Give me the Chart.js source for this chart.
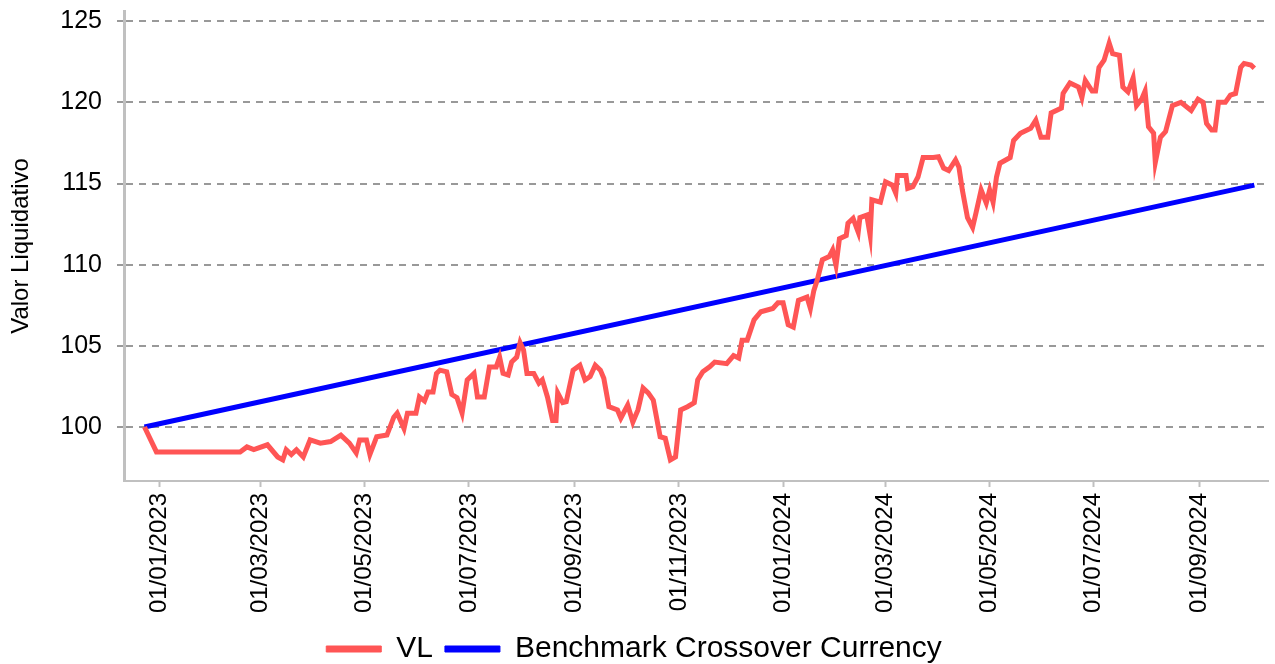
<!DOCTYPE html>
<html>
<head>
<meta charset="utf-8">
<title>Valor Liquidativo</title>
<script src="https://cdn.jsdelivr.net/npm/chart.js@4.4.1/dist/chart.umd.min.js"></script>
<style>
    html, body { margin: 0; padding: 0; background: #FFFFFF; }
    #chart-wrap { width: 1275px; height: 664px; position: relative; }
</style>
</head>
<body>
<div id="chart-wrap"><canvas id="vl-chart"></canvas></div>
<script>
// Net asset value vs benchmark chart

// Axis labels and ticks
const yTitle = 'Valor Liquidativo';
const yTicks = [100, 105, 110, 115, 120, 125];
const xTickLabels = [
    '01/01/2023', '01/03/2023', '01/05/2023', '01/07/2023', '01/09/2023', '01/11/2023',
    '01/01/2024', '01/03/2024', '01/05/2024', '01/07/2024', '01/09/2024'
];
const xRange = ['2022-12-11', '2024-10-11'];
const yRange = [96.67, 125.63];

// VL series
const vlDates = [
    '2022-12-23', '2022-12-30', '2023-02-17', '2023-02-21', '2023-02-25', '2023-03-05', '2023-03-11',
    '2023-03-14', '2023-03-16', '2023-03-19', '2023-03-22', '2023-03-26', '2023-03-30', '2023-04-05',
    '2023-04-11', '2023-04-17', '2023-04-22', '2023-04-26', '2023-04-28', '2023-05-02', '2023-05-04',
    '2023-05-08', '2023-05-14', '2023-05-18', '2023-05-20', '2023-05-24', '2023-05-26', '2023-05-31',
    '2023-06-02', '2023-06-05', '2023-06-07', '2023-06-10', '2023-06-12', '2023-06-14', '2023-06-18',
    '2023-06-21', '2023-06-24', '2023-06-27', '2023-06-30', '2023-07-04', '2023-07-06', '2023-07-10',
    '2023-07-13', '2023-07-17', '2023-07-19', '2023-07-21', '2023-07-24', '2023-07-26', '2023-07-29',
    '2023-07-31', '2023-08-02', '2023-08-04', '2023-08-08', '2023-08-11', '2023-08-13', '2023-08-16',
    '2023-08-19', '2023-08-21', '2023-08-22', '2023-08-25', '2023-08-27', '2023-08-31', '2023-09-04',
    '2023-09-07', '2023-09-10', '2023-09-13', '2023-09-16', '2023-09-18', '2023-09-21', '2023-09-26',
    '2023-09-28', '2023-10-02', '2023-10-05', '2023-10-08', '2023-10-11', '2023-10-14', '2023-10-17',
    '2023-10-21', '2023-10-24', '2023-10-27', '2023-10-30', '2023-11-02', '2023-11-06', '2023-11-10',
    '2023-11-12', '2023-11-15', '2023-11-19', '2023-11-22', '2023-11-29', '2023-12-03', '2023-12-06',
    '2023-12-08', '2023-12-11', '2023-12-15', '2023-12-19', '2023-12-26', '2023-12-29', '2024-01-01',
    '2024-01-04', '2024-01-07', '2024-01-10', '2024-01-15', '2024-01-17', '2024-01-19', '2024-01-21',
    '2024-01-24', '2024-01-28', '2024-01-30', '2024-02-01', '2024-02-03', '2024-02-07', '2024-02-08',
    '2024-02-11', '2024-02-14', '2024-02-15', '2024-02-19', '2024-02-21', '2024-02-22', '2024-02-27',
    '2024-03-01', '2024-03-05', '2024-03-07', '2024-03-08', '2024-03-13', '2024-03-14', '2024-03-17',
    '2024-03-20', '2024-03-23', '2024-03-29', '2024-04-01', '2024-04-04', '2024-04-07', '2024-04-11',
    '2024-04-13', '2024-04-15', '2024-04-18', '2024-04-21', '2024-04-23', '2024-04-26', '2024-04-29',
    '2024-05-01', '2024-05-03', '2024-05-05', '2024-05-07', '2024-05-13', '2024-05-15', '2024-05-19',
    '2024-05-25', '2024-05-28', '2024-05-31', '2024-06-04', '2024-06-06', '2024-06-12', '2024-06-13',
    '2024-06-17', '2024-06-22', '2024-06-24', '2024-06-26', '2024-06-30', '2024-07-02', '2024-07-04',
    '2024-07-07', '2024-07-10', '2024-07-12', '2024-07-16', '2024-07-18', '2024-07-21', '2024-07-24',
    '2024-07-26', '2024-07-29', '2024-07-31', '2024-08-02', '2024-08-05', '2024-08-06', '2024-08-09',
    '2024-08-12', '2024-08-16', '2024-08-21', '2024-08-27', '2024-08-31', '2024-09-03', '2024-09-05',
    '2024-09-08', '2024-09-10', '2024-09-12', '2024-09-16', '2024-09-19', '2024-09-22', '2024-09-25',
    '2024-09-27', '2024-10-01', '2024-10-03'
];
const vlValues = [
    100.0, 98.46, 98.46, 98.77, 98.6, 98.9, 98.15,
    97.97, 98.6, 98.3, 98.6, 98.15, 99.2, 99.0,
    99.1, 99.5, 99.0, 98.4, 99.2, 99.2, 98.3,
    99.4, 99.5, 100.6, 100.85, 99.9, 100.85, 100.85,
    101.85, 101.6, 102.15, 102.15, 103.3, 103.5, 103.4,
    102.0, 101.8, 100.85, 102.9, 103.3, 101.85, 101.85,
    103.7, 103.7, 104.3, 103.3, 103.2, 104.0, 104.3,
    105.2, 104.75, 103.3, 103.3, 102.7, 102.9, 101.85,
    100.4, 100.4, 102.1, 101.5, 101.55, 103.5, 103.8,
    102.9, 103.1, 103.8, 103.5, 103.0, 101.25, 101.05,
    100.55, 101.35, 100.3, 101.05, 102.4, 102.1, 101.65,
    99.4, 99.3, 97.97, 98.15, 101.05, 101.25, 101.5,
    102.9, 103.4, 103.7, 104.0, 103.9, 104.4, 104.25,
    105.35, 105.35, 106.6, 107.1, 107.3, 107.65, 107.65,
    106.3, 106.15, 107.8, 108.0, 107.3, 108.4, 109.05,
    110.3, 110.5, 110.9, 109.95, 111.6, 111.8, 112.55,
    112.85, 112.0, 112.9, 113.05, 111.8, 114.0, 113.85,
    115.1, 114.9, 114.4, 115.5, 115.5, 114.7, 114.8,
    115.4, 116.6, 116.6, 116.65, 115.95, 115.8, 116.45,
    116.0, 114.6, 112.9, 112.3, 113.2, 114.6, 113.8,
    114.6, 113.85, 115.4, 116.25, 116.6, 117.65, 118.1,
    118.4, 118.9, 117.85, 117.85, 119.35, 119.65, 120.55,
    121.2, 120.95, 120.3, 121.35, 120.7, 120.7, 122.15,
    122.6, 123.65, 123.0, 122.9, 120.95, 120.65, 121.5,
    119.8, 120.2, 120.7, 118.5, 118.1, 116.3, 117.85,
    118.2, 119.8, 120.0, 119.5, 120.2, 120.0, 118.7,
    118.3, 118.3, 120.0, 120.0, 120.45, 120.55, 122.15,
    122.4, 122.3, 122.1
];

// Benchmark (straight line)
const benchDates = ['2022-12-23', '2024-10-03'];
const benchValues = [100.0, 114.9];

// Convert dates to day numbers (no date adapter is loaded)
function isoToDay(iso) {
    const [y, m, d] = iso.split('-').map(Number);
    return Date.UTC(y, m - 1, d) / 86400000;
}

function labelToDay(label) {
    const [d, m, y] = label.split('/').map(Number);
    return Date.UTC(y, m - 1, d) / 86400000;
}

function toPoints(dates, values) {
    return dates.map((dt, i) => ({ x: isoToDay(dt), y: values[i] }));
}

const tickDays = xTickLabels.map(labelToDay);
const FONT = '"Liberation Sans", Arial, sans-serif';

document.addEventListener('DOMContentLoaded', function() {
    renderChart();
});

function renderChart() {
    if (typeof Chart === 'undefined') {
        console.error('Chart.js is not available.');
        return;
    }

    const ctx = document.getElementById('vl-chart').getContext('2d');

    new Chart(ctx, {
        type: 'line',
        data: {
            datasets: [
                {
                    label: 'VL',
                    data: toPoints(vlDates, vlValues),
                    borderColor: '#FF5555',
                    backgroundColor: '#FF5555',
                    borderWidth: 5,
                    pointRadius: 0,
                    tension: 0,
                    fill: false
                },
                {
                    label: 'Benchmark Crossover Currency',
                    data: toPoints(benchDates, benchValues),
                    borderColor: '#0000FF',
                    backgroundColor: '#0000FF',
                    borderWidth: 5,
                    pointRadius: 0,
                    tension: 0,
                    fill: false
                }
            ]
        },
        options: {
            responsive: true,
            maintainAspectRatio: false,
            animation: false,
            layout: { padding: { left: 0, right: 7, top: 11, bottom: -10 } },
            plugins: {
                tooltip: { enabled: false },
                legend: {
                    position: 'bottom',
                    labels: {
                        color: '#000000',
                        font: { family: FONT, size: 30 },
                        boxWidth: 55,
                        boxHeight: 6,
                        padding: 12,
                        generateLabels: (chart) => chart.data.datasets.map((ds, i) => ({
                            text: ds.label,
                            fillStyle: ds.borderColor,
                            strokeStyle: ds.borderColor,
                            lineWidth: 1,
                            hidden: false,
                            datasetIndex: i
                        }))
                    }
                }
            },
            scales: {
                x: {
                    type: 'linear',
                    min: isoToDay(xRange[0]),
                    max: isoToDay(xRange[1]),
                    afterBuildTicks: (scale) => {
                        scale.ticks = tickDays.map(v => ({ value: v }));
                    },
                    afterFit: (scale) => {
                        scale.height = 141;
                        scale.paddingLeft = 0;
                        scale.paddingRight = 0;
                    },
                    ticks: {
                        autoSkip: false,
                        minRotation: 90,
                        maxRotation: 90,
                        padding: 6,
                        color: '#000000',
                        font: { family: FONT, size: 24 },
                        callback: (value) => {
                            const idx = tickDays.indexOf(value);
                            return idx >= 0 ? xTickLabels[idx] : '';
                        }
                    },
                    grid: {
                        drawOnChartArea: false,
                        drawTicks: true,
                        tickLength: 6,
                        tickColor: '#C0C0C0',
                        tickWidth: 2
                    },
                    border: { display: true, color: '#C0C0C0', width: 2 }
                },
                y: {
                    min: yRange[0],
                    max: yRange[1],
                    afterBuildTicks: (scale) => {
                        scale.ticks = yTicks.map(v => ({ value: v }));
                    },
                    afterFit: (scale) => {
                        scale.width = 124;
                        scale.paddingTop = 0;
                        scale.paddingBottom = 0;
                    },
                    ticks: {
                        padding: 15,
                        color: '#000000',
                        font: { family: FONT, size: 25 }
                    },
                    title: {
                        display: true,
                        text: yTitle,
                        color: '#000000',
                        font: { family: FONT, size: 24 },
                        padding: { top: 7, bottom: 0 }
                    },
                    grid: {
                        drawOnChartArea: true,
                        tickLength: 7,
                        color: '#999999',
                        lineWidth: 2
                    },
                    border: { display: true, color: '#C0C0C0', width: 3, dash: [7, 6] }
                }
            }
        }
    });
}
</script>
</body>
</html>
